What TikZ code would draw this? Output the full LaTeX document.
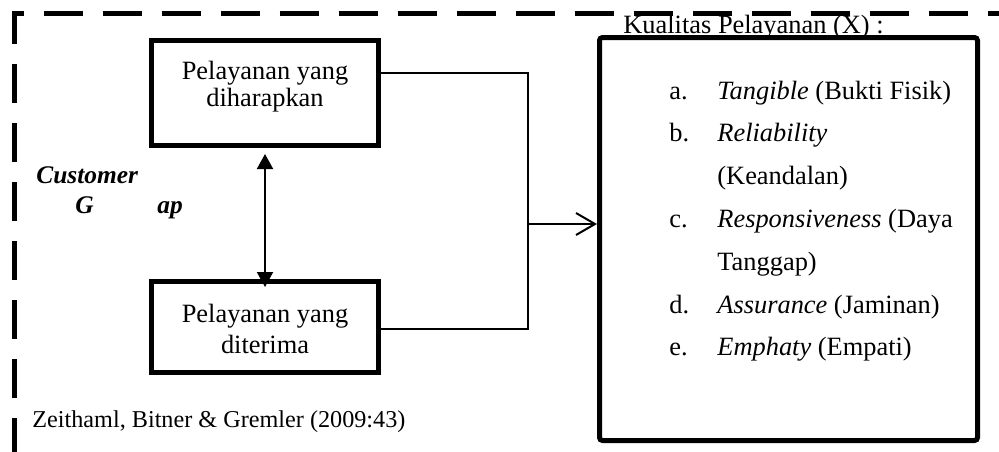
\documentclass[tikz,border=0pt]{standalone}
\usepackage{fontspec}
\setmainfont{Liberation Serif}
\usetikzlibrary{arrows.meta}

\begin{document}
\begin{tikzpicture}[x=0.5pt, y=-0.5pt,
        font=\fontsize{13.2}{12}\selectfont,
        box/.style={draw, line width=2.5pt, inner sep=0pt},
        boxtext/.style={inner sep=0pt, align=center},
        conn/.style={line width=1pt},
        gaplabel/.style={inner sep=0pt, anchor=base west, font=\fontsize{12.7}{12.7}\selectfont\bfseries\itshape},
        frame/.style={line width=2.5pt, dash pattern=on 19.5pt off 10pt, dash phase=27.25pt}]
        \useasboundingbox (0,0) rectangle (999,451);
        % outer dashed frame
        \draw [frame] (14.5,520) -- (14.5,13.5) -- (1001,13.5) -- (1001,520);
        % the two services
        \node [box, minimum width=113.5pt, minimum height=52.5pt] (expect) at (265,93) {};
        \node [boxtext, anchor=base] (expecttxt) at (265,106) {Pelayanan yang\\diharapkan};
        \node [box, minimum width=113.5pt, minimum height=45.5pt] (recv) at (265,327) {};
        \node [boxtext, anchor=base, font=\fontsize{13.2}{15.5}\selectfont] (recvtxt) at (265,353) {Pelayanan yang\\diterima};
        \draw [conn, {Triangle[length=7.5pt,width=8pt]}-{Triangle[length=7.5pt,width=8pt]}, shorten <=3pt, shorten >=-4pt] (expect.south) -- (recv.north);
        \node [gaplabel] (cust) at (36,183) {Customer};
        \node [gaplabel] (gapG) at (75,213) {G};
        \node [gaplabel] (gapap) at (157,213) {ap};
        % quality box
        \node [inner sep=0pt, anchor=base west] (title) at (623,33) {Kualitas Pelayanan (X) :};
        \node [box, rounded corners=1.5pt, minimum width=189pt, minimum height=201.5pt] (qual) at (788.5,239) {};
        \node [inner sep=0pt, anchor=base west, font=\fontsize{13.2}{21.4}\selectfont] (items) at (669,99) {%
            \begin{tabular}[t]{@{}p{24pt}@{}l@{}}
            a. & \textit{Tangible} (Bukti Fisik)\\
            b. & \textit{Reliability}\\
               & (Keandalan)\\
            c. & \textit{Responsiveness} (Daya\\
               & Tanggap)\\
            d. & \textit{Assurance} (Jaminan)\\
            e. & \textit{Emphaty} (Empati)
            \end{tabular}};
        % connectors
        \coordinate (jtop) at (528,73);
        \coordinate (jbot) at (528,329);
        \coordinate (jmid) at (528,224);
        \draw [conn] (expect.east |- jtop) -- (jtop) -- (jbot) -- (recv.east |- jbot);
        \draw [conn, -{Straight Barb[length=9.5pt,width=11pt]}] (jmid) -- (qual.west |- jmid);
        \node [inner sep=0pt, anchor=base west, font=\fontsize{12.1}{12}\selectfont] (source) at (32,427) {Zeithaml, Bitner \& Gremler (2009:43)};
    \end{tikzpicture}
\end{document}
